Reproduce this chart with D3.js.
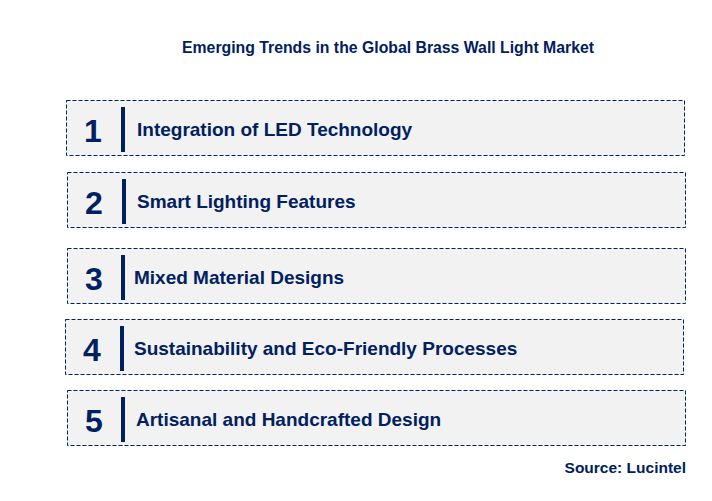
<!DOCTYPE html><html><head><meta charset="utf-8">
<script src="https://cdn.jsdelivr.net/npm/d3@7"></script>
<style>body{margin:0;background:#fff}</style></head><body>
<script>
const title = "Emerging Trends in the Global Brass Wall Light Market";
const numbers = ["1","2","3","4","5"];
const trends = ["Integration of LED Technology","Smart Lighting Features","Mixed Material Designs","Sustainability and Eco-Friendly Processes","Artisanal and Handcrafted Design"];
const boxTops = [100,172,248,319,390];
const boxLefts = [66,67,67,65,67];
const barX = [121,122,121,120,121];
const textX = [137,137,134,134,136];
const source = "Source: Lucintel";
const W=712,H=501,navy="#002060";
const svg=d3.select("body").append("svg").attr("width",W).attr("height",H);
svg.append("text").attr("x",388).attr("y",53).attr("text-anchor","middle").attr("font-family","Arial, Liberation Sans").attr("font-weight","bold").attr("font-size",15.8).attr("fill",navy).text(title);
const g=svg.selectAll("g.row").data(trends).enter().append("g");
g.append("rect").attr("x",(d,i)=>boxLefts[i]+0.5).attr("y",(d,i)=>boxTops[i]+0.5).attr("width",618).attr("height",55)
 .attr("fill","#f2f2f2").attr("stroke",navy).attr("stroke-width",1).attr("stroke-dasharray","4,2");
g.append("text").attr("x",(d,i)=>boxLefts[i]+27).attr("y",(d,i)=>boxTops[i]+42).attr("text-anchor","middle")
 .attr("font-family","Arial, Liberation Sans").attr("font-weight","bold").attr("font-size",32).attr("fill",navy).text((d,i)=>numbers[i]);
g.append("rect").attr("x",(d,i)=>barX[i]).attr("y",(d,i)=>boxTops[i]+7).attr("width",4).attr("height",45).attr("fill",navy);
g.append("text").attr("x",(d,i)=>textX[i]).attr("y",(d,i)=>boxTops[i]+36)
 .attr("font-family","Arial, Liberation Sans").attr("font-weight","bold").attr("font-size",19).attr("fill",navy).text(d=>d);
svg.append("text").attr("x",686).attr("y",473).attr("text-anchor","end").attr("font-family","Arial, Liberation Sans").attr("font-weight","bold").attr("font-size",15.5).attr("fill",navy).text(source);
</script></body></html>
